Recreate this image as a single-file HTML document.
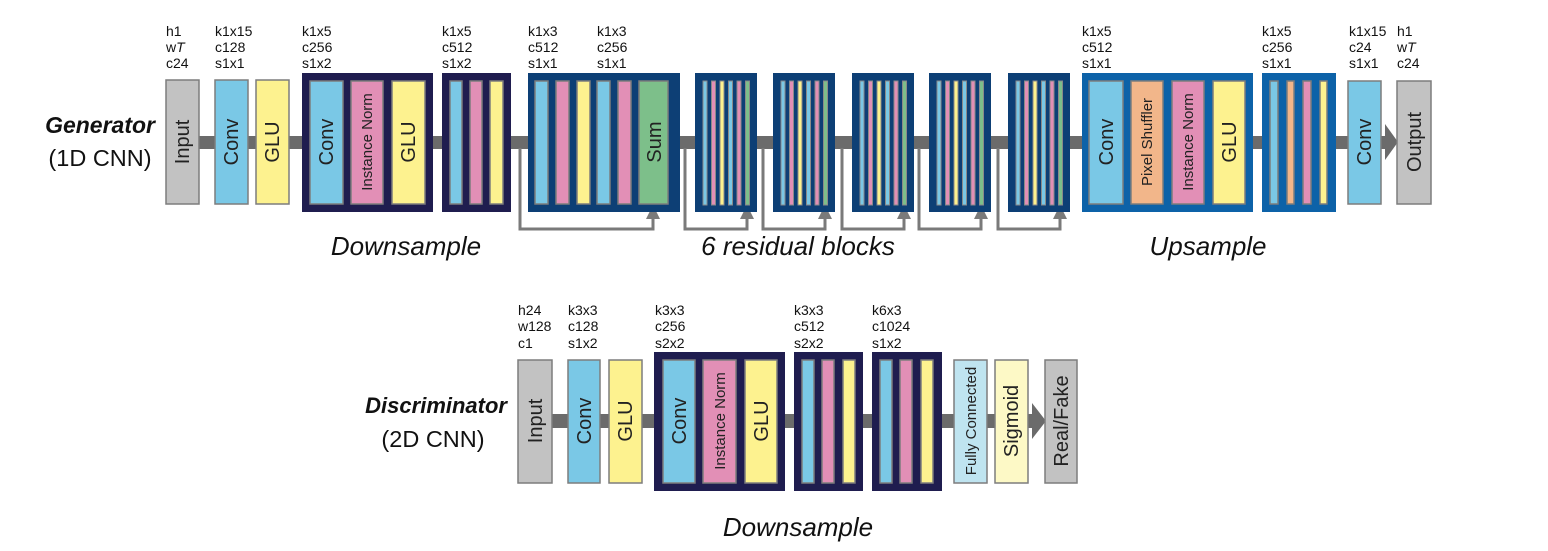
<!DOCTYPE html>
<html><head><meta charset="utf-8"><style>
html,body{margin:0;padding:0;background:#fff;}
svg{display:block;}
text{font-family:"Liberation Sans",Arial,sans-serif;}
.lab{font-size:14px;fill:#111;}
.big{font-size:26px;font-style:italic;fill:#111;}
.bx{stroke:#7d7d7d;stroke-width:1.5;}
.t{font-size:20px;fill:#222;}
.ts{font-size:15px;fill:#222;}
</style></head><body>
<svg width="1548" height="551" viewBox="0 0 1548 551" xmlns="http://www.w3.org/2000/svg">
<!-- ===== GENERATOR ===== -->
<text x="155" y="133" text-anchor="end" style="font-size:23px;font-weight:bold;font-style:italic" fill="#111">Generator</text>
<text x="100" y="166" text-anchor="middle" style="font-size:23.5px" fill="#111">(1D CNN)</text>

<rect x="199" y="136" width="1188" height="13" fill="#6b6b6b"/>
<polygon points="1385,124 1398,142 1385,160" fill="#6b6b6b"/>

<g fill="none" stroke="#7a7a7a" stroke-width="3">
<polyline points="520,148 520,229 653,229 653,216"/>
<polyline points="685,148 685,229 747,229 747,216"/>
<polyline points="763,148 763,229 825,229 825,216"/>
<polyline points="842,148 842,229 904,229 904,216"/>
<polyline points="919,148 919,229 981,229 981,216"/>
<polyline points="998,148 998,229 1060,229 1060,216"/>
</g>
<g fill="#7a7a7a">
<polygon points="646,219 660,219 653,205"/>
<polygon points="740,219 754,219 747,205"/>
<polygon points="818,219 832,219 825,205"/>
<polygon points="897,219 911,219 904,205"/>
<polygon points="974,219 988,219 981,205"/>
<polygon points="1053,219 1067,219 1060,205"/>
</g>

<g class="lab">
<text x="166" y="36">h1</text><text x="166" y="52">w<tspan font-style="italic">T</tspan></text><text x="166" y="68">c24</text>
<text x="215" y="36">k1x15</text><text x="215" y="52">c128</text><text x="215" y="68">s1x1</text>
<text x="302" y="36">k1x5</text><text x="302" y="52">c256</text><text x="302" y="68">s1x2</text>
<text x="442" y="36">k1x5</text><text x="442" y="52">c512</text><text x="442" y="68">s1x2</text>
<text x="528" y="36">k1x3</text><text x="528" y="52">c512</text><text x="528" y="68">s1x1</text>
<text x="597" y="36">k1x3</text><text x="597" y="52">c256</text><text x="597" y="68">s1x1</text>
<text x="1082" y="36">k1x5</text><text x="1082" y="52">c512</text><text x="1082" y="68">s1x1</text>
<text x="1262" y="36">k1x5</text><text x="1262" y="52">c256</text><text x="1262" y="68">s1x1</text>
<text x="1349" y="36">k1x15</text><text x="1349" y="52">c24</text><text x="1349" y="68">s1x1</text>
<text x="1397" y="36">h1</text><text x="1397" y="52">w<tspan font-style="italic">T</tspan></text><text x="1397" y="68">c24</text>
</g>

<rect class="bx" x="166" y="80" width="33" height="124" fill="#c2c2c2"/>
<text class="t" transform="translate(189,142) rotate(-90)" text-anchor="middle">Input</text>
<rect class="bx" x="215" y="80" width="33" height="124" fill="#7ac8e6"/>
<text class="t" transform="translate(238,142) rotate(-90)" text-anchor="middle">Conv</text>
<rect class="bx" x="256" y="80" width="33" height="124" fill="#fdf28f"/>
<text class="t" transform="translate(279,142) rotate(-90)" text-anchor="middle">GLU</text>

<rect x="302" y="73" width="131" height="139" fill="#1f1d4f"/>
<rect class="bx" x="310" y="81" width="33" height="123" fill="#7ac8e6"/>
<text class="t" transform="translate(333,142) rotate(-90)" text-anchor="middle">Conv</text>
<rect class="bx" x="351" y="81" width="32" height="123" fill="#e28fb6"/>
<text class="ts" transform="translate(372,142) rotate(-90)" text-anchor="middle">Instance Norm</text>
<rect class="bx" x="392" y="81" width="33" height="123" fill="#fdf28f"/>
<text class="t" transform="translate(415,142) rotate(-90)" text-anchor="middle">GLU</text>

<rect x="442" y="73" width="69" height="139" fill="#1f1d4f"/>
<rect class="bx" x="450" y="81" width="12" height="123" fill="#7ac8e6"/>
<rect class="bx" x="470" y="81" width="12" height="123" fill="#e28fb6"/>
<rect class="bx" x="490" y="81" width="13" height="123" fill="#fdf28f"/>

<rect x="528" y="73" width="152" height="139" fill="#0d3f75"/>
<rect class="bx" x="535" y="81" width="13" height="123" fill="#7ac8e6"/>
<rect class="bx" x="556" y="81" width="13" height="123" fill="#e28fb6"/>
<rect class="bx" x="577" y="81" width="13" height="123" fill="#fdf28f"/>
<rect class="bx" x="597" y="81" width="13" height="123" fill="#7ac8e6"/>
<rect class="bx" x="618" y="81" width="13" height="123" fill="#e28fb6"/>
<rect class="bx" x="639" y="81" width="29" height="123" fill="#7dbf8a"/>
<text class="t" transform="translate(661,142) rotate(-90)" text-anchor="middle">Sum</text>

<g>
<rect x="695" y="73" width="62" height="139" fill="#0d3f75"/>
<rect x="773" y="73" width="62" height="139" fill="#0d3f75"/>
<rect x="852" y="73" width="62" height="139" fill="#0d3f75"/>
<rect x="929" y="73" width="62" height="139" fill="#0d3f75"/>
<rect x="1008" y="73" width="62" height="139" fill="#0d3f75"/>
</g>
<g stroke="#8a8a8a" stroke-width="1">
<rect x="703" y="81" width="4" height="124" fill="#7ac8e6"/><rect x="711.5" y="81" width="4" height="124" fill="#e28fb6"/><rect x="720" y="81" width="4" height="124" fill="#fdf28f"/><rect x="728.5" y="81" width="4" height="124" fill="#7ac8e6"/><rect x="737" y="81" width="4" height="124" fill="#e28fb6"/><rect x="745.5" y="81" width="4" height="124" fill="#7dbf8a"/>
<rect x="781" y="81" width="4" height="124" fill="#7ac8e6"/><rect x="789.5" y="81" width="4" height="124" fill="#e28fb6"/><rect x="798" y="81" width="4" height="124" fill="#fdf28f"/><rect x="806.5" y="81" width="4" height="124" fill="#7ac8e6"/><rect x="815" y="81" width="4" height="124" fill="#e28fb6"/><rect x="823.5" y="81" width="4" height="124" fill="#7dbf8a"/>
<rect x="860" y="81" width="4" height="124" fill="#7ac8e6"/><rect x="868.5" y="81" width="4" height="124" fill="#e28fb6"/><rect x="877" y="81" width="4" height="124" fill="#fdf28f"/><rect x="885.5" y="81" width="4" height="124" fill="#7ac8e6"/><rect x="894" y="81" width="4" height="124" fill="#e28fb6"/><rect x="902.5" y="81" width="4" height="124" fill="#7dbf8a"/>
<rect x="937" y="81" width="4" height="124" fill="#7ac8e6"/><rect x="945.5" y="81" width="4" height="124" fill="#e28fb6"/><rect x="954" y="81" width="4" height="124" fill="#fdf28f"/><rect x="962.5" y="81" width="4" height="124" fill="#7ac8e6"/><rect x="971" y="81" width="4" height="124" fill="#e28fb6"/><rect x="979.5" y="81" width="4" height="124" fill="#7dbf8a"/>
<rect x="1016" y="81" width="4" height="124" fill="#7ac8e6"/><rect x="1024.5" y="81" width="4" height="124" fill="#e28fb6"/><rect x="1033" y="81" width="4" height="124" fill="#fdf28f"/><rect x="1041.5" y="81" width="4" height="124" fill="#7ac8e6"/><rect x="1050" y="81" width="4" height="124" fill="#e28fb6"/><rect x="1058.5" y="81" width="4" height="124" fill="#7dbf8a"/>
</g>

<rect x="1082" y="73" width="171" height="139" fill="#0d62a8"/>
<rect class="bx" x="1089" y="81" width="34" height="123" fill="#7ac8e6"/>
<text class="t" transform="translate(1113,142) rotate(-90)" text-anchor="middle">Conv</text>
<rect class="bx" x="1131" y="81" width="32" height="123" fill="#f2b68a"/>
<text class="ts" transform="translate(1152,142) rotate(-90)" text-anchor="middle">Pixel Shuffler</text>
<rect class="bx" x="1172" y="81" width="32" height="123" fill="#e28fb6"/>
<text class="ts" transform="translate(1193,142) rotate(-90)" text-anchor="middle">Instance Norm</text>
<rect class="bx" x="1213" y="81" width="32" height="123" fill="#fdf28f"/>
<text class="t" transform="translate(1236,142) rotate(-90)" text-anchor="middle">GLU</text>

<rect x="1262" y="73" width="74" height="139" fill="#0d62a8"/>
<rect class="bx" x="1270" y="81" width="8" height="123" fill="#7ac8e6"/>
<rect class="bx" x="1287" y="81" width="7" height="123" fill="#f2b68a"/>
<rect class="bx" x="1303" y="81" width="8" height="123" fill="#e28fb6"/>
<rect class="bx" x="1320" y="81" width="7" height="123" fill="#fdf28f"/>

<rect class="bx" x="1348" y="81" width="33" height="123" fill="#7ac8e6"/>
<text class="t" transform="translate(1371,142) rotate(-90)" text-anchor="middle">Conv</text>
<rect class="bx" x="1397" y="81" width="34" height="123" fill="#c2c2c2"/>
<text class="t" transform="translate(1421,142) rotate(-90)" text-anchor="middle">Output</text>

<text class="big" x="406" y="255" text-anchor="middle">Downsample</text>
<text class="big" x="798" y="255" text-anchor="middle">6 residual blocks</text>
<text class="big" x="1208" y="255" text-anchor="middle">Upsample</text>

<!-- ===== DISCRIMINATOR ===== -->
<text x="507" y="413" text-anchor="end" style="font-size:22px;font-weight:bold;font-style:italic" fill="#111">Discriminator</text>
<text x="433" y="447" text-anchor="middle" style="font-size:23.5px" fill="#111">(2D CNN)</text>

<rect x="552" y="414" width="482" height="14" fill="#6b6b6b"/>
<polygon points="1032,403 1046,421 1032,439" fill="#6b6b6b"/>

<g class="lab">
<text x="518" y="315">h24</text><text x="518" y="331">w128</text><text x="518" y="348">c1</text>
<text x="568" y="315">k3x3</text><text x="568" y="331">c128</text><text x="568" y="348">s1x2</text>
<text x="655" y="315">k3x3</text><text x="655" y="331">c256</text><text x="655" y="348">s2x2</text>
<text x="794" y="315">k3x3</text><text x="794" y="331">c512</text><text x="794" y="348">s2x2</text>
<text x="872" y="315">k6x3</text><text x="872" y="331">c1024</text><text x="872" y="348">s1x2</text>
</g>

<rect class="bx" x="518" y="360" width="34" height="123" fill="#c2c2c2"/>
<text class="t" transform="translate(542,421) rotate(-90)" text-anchor="middle">Input</text>
<rect class="bx" x="568" y="360" width="32" height="123" fill="#7ac8e6"/>
<text class="t" transform="translate(591,421) rotate(-90)" text-anchor="middle">Conv</text>
<rect class="bx" x="609" y="360" width="33" height="123" fill="#fdf28f"/>
<text class="t" transform="translate(632,421) rotate(-90)" text-anchor="middle">GLU</text>

<rect x="654" y="352" width="131" height="139" fill="#1f1d4f"/>
<rect class="bx" x="663" y="360" width="32" height="123" fill="#7ac8e6"/>
<text class="t" transform="translate(686,421) rotate(-90)" text-anchor="middle">Conv</text>
<rect class="bx" x="703" y="360" width="33" height="123" fill="#e28fb6"/>
<text class="ts" transform="translate(725,421) rotate(-90)" text-anchor="middle">Instance Norm</text>
<rect class="bx" x="745" y="360" width="32" height="123" fill="#fdf28f"/>
<text class="t" transform="translate(768,421) rotate(-90)" text-anchor="middle">GLU</text>

<rect x="794" y="352" width="69" height="139" fill="#1f1d4f"/>
<rect class="bx" x="802" y="360" width="12" height="123" fill="#7ac8e6"/>
<rect class="bx" x="822" y="360" width="12" height="123" fill="#e28fb6"/>
<rect class="bx" x="843" y="360" width="12" height="123" fill="#fdf28f"/>

<rect x="872" y="352" width="70" height="139" fill="#1f1d4f"/>
<rect class="bx" x="880" y="360" width="12" height="123" fill="#7ac8e6"/>
<rect class="bx" x="900" y="360" width="12" height="123" fill="#e28fb6"/>
<rect class="bx" x="921" y="360" width="12" height="123" fill="#fdf28f"/>

<rect class="bx" x="954" y="360" width="33" height="123" fill="#bfe4f0"/>
<text class="ts" transform="translate(976,421) rotate(-90)" text-anchor="middle">Fully Connected</text>
<rect class="bx" x="995" y="360" width="33" height="123" fill="#fdf9c6"/>
<text class="t" transform="translate(1018,421) rotate(-90)" text-anchor="middle">Sigmoid</text>
<rect class="bx" x="1045" y="360" width="32" height="123" fill="#c2c2c2"/>
<text class="t" transform="translate(1068,421) rotate(-90)" text-anchor="middle">Real/Fake</text>

<text class="big" x="798" y="536" text-anchor="middle">Downsample</text>
</svg>
</body></html>
